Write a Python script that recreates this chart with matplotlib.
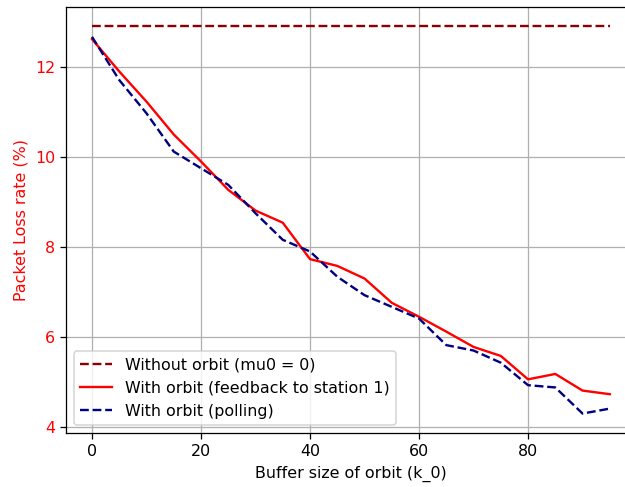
import numpy as np
import matplotlib
matplotlib.use('Agg')
from matplotlib import pyplot as plt

k0 = np.arange(0, 100, 5)
no_orbit = [12.9] * len(k0)
feedback = [12.62, 11.9, 11.23, 10.5, 9.9, 9.27, 8.81, 8.54, 7.73, 7.58,
            7.3, 6.76, 6.45, 6.12, 5.78, 5.58, 5.06, 5.18, 4.81, 4.73]
polling = [12.67, 11.71, 10.97, 10.12, 9.75, 9.38, 8.75, 8.16, 7.9, 7.34,
           6.93, 6.67, 6.41, 5.82, 5.7, 5.43, 4.93, 4.88, 4.3, 4.41]

# reference looks rendered ~1.14x larger than default
s = 1.14
fig = plt.figure(figsize=(6.25 / s, 4.87 / s), dpi=100 * s)
ax = fig.add_axes([66.1 / 625, 1 - 432.9 / 487, (635.7 - 66.1) / 625, (432.9 - 7.1) / 487])
ax.plot(k0, no_orbit, '--', color='darkred', label='Without orbit (mu0 = 0)')
ax.plot(k0, feedback, '-', color='red', label='With orbit (feedback to station 1)')
ax.plot(k0, polling, '--', color='navy', label='With orbit (polling)')
ax.set_xlabel('Buffer size of orbit (k_0)')
ax.set_ylabel('Packet Loss rate (%)', color='red')
ax.tick_params(axis='y', labelcolor='red')
ax.grid(True)
ax.legend(loc='lower left')
plt.savefig('out.png', dpi=100 * s)
